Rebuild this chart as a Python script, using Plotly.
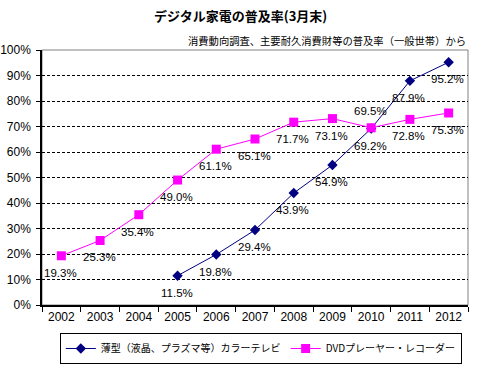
import plotly.graph_objects as go

years = ["2002", "2003", "2004", "2005", "2006", "2007", "2008", "2009", "2010", "2011", "2012"]
tv_years = ["2005", "2006", "2007", "2008", "2009", "2010", "2011", "2012"]
tv_values = [11.5, 19.8, 29.4, 43.9, 54.9, 69.2, 87.9, 95.2]
dvd_values = [19.3, 25.3, 35.4, 49.0, 61.1, 65.1, 71.7, 73.1, 69.5, 72.8, 75.3]
tv_name = "薄型（液晶、プラズマ等）カラーテレビ"
dvd_name = "DVDプレーヤー・レコーダー"
title_text = "デジタル家電の普及率(3月末)"
subtitle_text = "消費動向調査、主要耐久消費財等の普及率（一般世帯）から"

FONT = "Liberation Sans, Noto Sans CJK JP, sans-serif"
JFONT = "Noto Sans CJK JP, Liberation Sans, sans-serif"

fig = go.Figure()
fig.add_trace(go.Scatter(
    x=tv_years, y=tv_values, name=tv_name, mode="lines+markers",
    line=dict(color="#000080", width=1),
    marker=dict(symbol="diamond", size=8, color="#000080"),
    cliponaxis=False,
))
fig.add_trace(go.Scatter(
    x=years, y=dvd_values, name=dvd_name, mode="lines+markers",
    line=dict(color="#FF00FF", width=1),
    marker=dict(symbol="square", size=9, color="#FF00FF"),
    cliponaxis=False,
))

annotations = []
for xv, yv in zip(tv_years, tv_values):
    annotations.append(dict(x=years.index(xv), y=yv, xref="x", yref="y", text=f"{yv:.1f}%",
                            showarrow=False, yshift=-17, xshift=-1,
                            font=dict(family=FONT, size=11.5, color="black")))
for i, (xv, yv) in enumerate(zip(years, dvd_values)):
    shift = 17 if i == 8 else -17
    annotations.append(dict(x=i, y=yv, xref="x", yref="y", text=f"{yv:.1f}%",
                            showarrow=False, yshift=shift, xshift=-1,
                            font=dict(family=FONT, size=11.5, color="black")))
annotations += [
    dict(text=f"<b>{title_text}</b>", xref="paper", yref="paper", x=0.465, y=1.0,
         yshift=35, xanchor="center", yanchor="middle", showarrow=False,
         font=dict(family=JFONT, size=13)),
    dict(text=subtitle_text, xref="paper", yref="paper", x=1.0, y=1.0, yshift=10,
         xanchor="right", yanchor="middle", showarrow=False,
         font=dict(family=JFONT, size=10.3)),
]

fig.update_layout(
    width=483, height=368,
    margin=dict(l=42, r=15, t=50, b=63, autoexpand=False),
    paper_bgcolor="white", plot_bgcolor="white",
    font=dict(family=FONT, size=12, color="black"),
    showlegend=True,
    legend=dict(orientation="h", x=0.54, xanchor="center", xref="container",
                y=(368 - 364) / 368, yanchor="bottom", yref="container",
                bordercolor="black", borderwidth=1, font=dict(family=JFONT, size=10),
                tracegroupgap=0, itemwidth=30),
    annotations=annotations,
    shapes=[dict(type="rect", xref="x domain", yref="y domain", x0=0, x1=1, y0=0, y1=1,
                 line=dict(color="#808080", width=1), layer="below")],
)
fig.update_xaxes(type="category", categoryorder="array", categoryarray=years,
                 showline=True, linecolor="black", linewidth=1.5,
                 ticks="outside", tickson="boundaries", ticklen=5, tickcolor="black",
                 showgrid=False, range=[-0.5, 10.5], tickfont=dict(size=12))
fig.update_yaxes(range=[0, 100], dtick=10, ticksuffix="%", showline=True,
                 linecolor="black", linewidth=1.5, ticks="outside", ticklen=4,
                 tickcolor="black", showgrid=True, gridcolor="black", gridwidth=1,
                 griddash="3px,2px", zeroline=False, tickfont=dict(size=12),
                 ticklabelstandoff=3)

fig.write_html("out.html", config={"displayModeBar": False},
               post_script="document.body.style.margin='0';")
